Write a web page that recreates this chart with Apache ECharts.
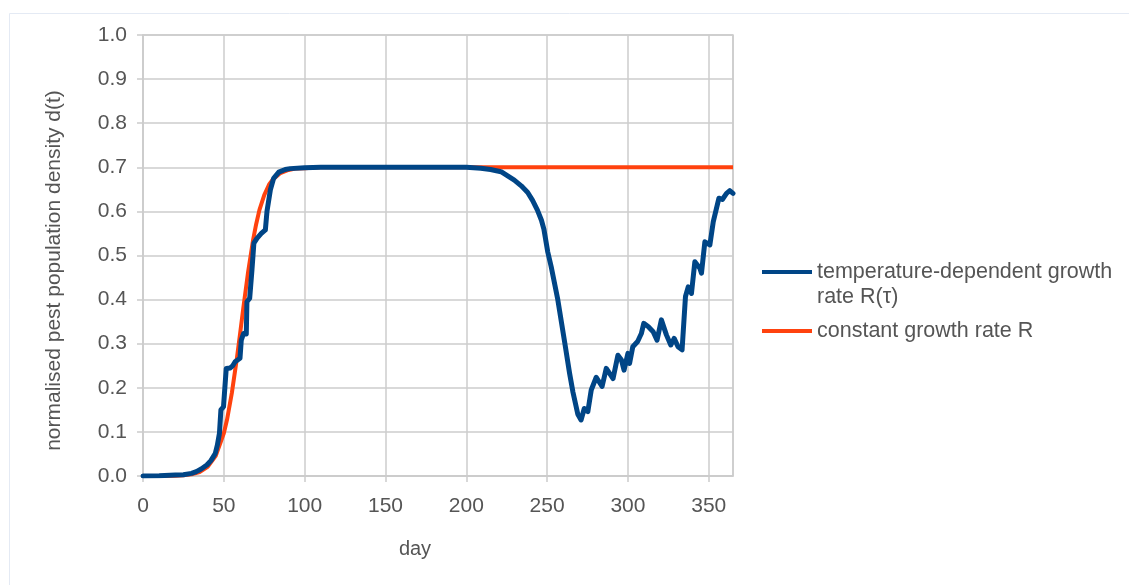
<!DOCTYPE html>
<html>
<head>
<meta charset="utf-8">
<script src="https://cdn.jsdelivr.net/npm/echarts@6/dist/echarts.min.js"></script>
<style>
  html, body { margin: 0; padding: 0; background: #ffffff; }
  #chart { width: 1129px; height: 585px; }
</style>
</head>
<body>
<div id="chart"></div>
<script>
// Series labels
const seriesNames = ['temperature-dependent growth\nrate R(τ)', 'constant growth rate R'];

// Axis ticks
const yTicks = [0.0, 0.1, 0.2, 0.3, 0.4, 0.5, 0.6, 0.7, 0.8, 0.9, 1.0];
const xTicks = [0, 50, 100, 150, 200, 250, 300, 350];

// Temperature-dependent growth rate: day / density
const tempDays = [0, 10, 20, 25, 30, 33, 36, 39.5, 42, 44.7, 46, 47.3, 48.2, 49.8, 51.5, 54, 55.5, 57, 60, 60.8, 62.2, 63.9, 64.3, 66, 67.4, 68.6, 70.5, 73.2, 75.7, 76.7, 78.8, 80.8, 84, 88, 91, 100, 110, 200, 209, 215, 221.5, 229.7, 234, 238, 241, 244, 246.5, 248, 250.4, 252.5, 256.6, 261, 263.9, 266, 267.5, 269, 271, 273, 275.2, 277.3, 280.4, 284, 286.6, 290.8, 291.8, 293.8, 296, 297.6, 300, 301, 303, 306, 308.3, 309.8, 312.5, 315.6, 318, 320.7, 323.8, 326.5, 328.6, 331, 333.5, 335.6, 337.3, 339.3, 341.4, 344.5, 345.5, 347.6, 350.7, 352.8, 356.3, 358.4, 361, 363, 365];
const tempDensity = [0, 0.0005, 0.002, 0.003, 0.006, 0.01, 0.016, 0.025, 0.035, 0.051, 0.07, 0.097, 0.15, 0.157, 0.244, 0.245, 0.25, 0.259, 0.267, 0.308, 0.323, 0.322, 0.395, 0.403, 0.467, 0.528, 0.539, 0.55, 0.558, 0.6, 0.649, 0.675, 0.689, 0.695, 0.697, 0.699, 0.7, 0.7, 0.698, 0.695, 0.69, 0.671, 0.658, 0.643, 0.625, 0.603, 0.58, 0.56, 0.508, 0.475, 0.4, 0.3, 0.233, 0.19, 0.165, 0.14, 0.127, 0.153, 0.146, 0.195, 0.224, 0.203, 0.244, 0.221, 0.218, 0.274, 0.263, 0.24, 0.278, 0.255, 0.293, 0.305, 0.323, 0.346, 0.339, 0.327, 0.308, 0.354, 0.32, 0.297, 0.312, 0.293, 0.286, 0.407, 0.429, 0.414, 0.486, 0.471, 0.46, 0.531, 0.524, 0.577, 0.63, 0.627, 0.641, 0.647, 0.641];

// Constant growth rate: day / density
const constDays = [0, 10, 20, 25, 30, 35, 40, 45, 50, 52, 55, 58, 60, 62, 65, 68, 70, 72, 75, 78, 80, 85, 90, 95, 100, 110, 365];
const constDensity = [0, 0.0002, 0.0008, 0.0018, 0.004, 0.009, 0.021, 0.046, 0.097, 0.128, 0.189, 0.265, 0.321, 0.379, 0.462, 0.533, 0.571, 0.603, 0.637, 0.661, 0.671, 0.687, 0.694, 0.6975, 0.698, 0.7, 0.7];

const pair = (xs, ys) => xs.map((x, i) => [x, ys[i]]);

const FONT = '"Liberation Sans", Arial, sans-serif';
const TEXT = '#555555';
const GRID = '#cccccc';

const chart = echarts.init(document.getElementById('chart'), null, { renderer: 'canvas' });

chart.setOption({
  backgroundColor: '#ffffff',
  animation: false,
  textStyle: { fontFamily: FONT },
  graphic: [{
    type: 'rect',
    left: 7, top: 11,
    shape: { width: 1200, height: 700 },
    style: { fill: 'none', stroke: '#e4eaf4', lineWidth: 1 },
    silent: true,
    z: -10
  }],
  grid: {
    left: 143, right: 396, top: 35, bottom: 109,
    show: true, borderColor: GRID, borderWidth: 1.5
  },
  legend: {
    orient: 'vertical',
    left: 762, top: 234.5,
    padding: 0,
    itemWidth: 50, itemHeight: 4, itemGap: 9,
    icon: 'rect',
    textStyle: { fontFamily: FONT, fontSize: 21.5, color: TEXT, lineHeight: 25 },
    // a leading blank line keeps the first text line level with the line sample
    formatter: name => name.indexOf('\n') >= 0 ? '\n' + name : name,
    data: seriesNames
  },
  xAxis: {
    type: 'value',
    min: 0, max: 365, interval: 50,
    name: 'day', nameLocation: 'middle', nameGap: 63,
    nameTextStyle: { fontFamily: FONT, fontSize: 20, color: TEXT, padding: [0, 46, 0, 0] },
    axisLine: { show: true, lineStyle: { color: GRID, width: 1.5 } },
    axisTick: { show: true, length: 6, lineStyle: { color: GRID, width: 1.5 } },
    axisLabel: {
      margin: 20, fontSize: 21, color: TEXT, fontFamily: FONT,
      showMaxLabel: false,
      formatter: v => xTicks.includes(v) ? String(v) : ''
    },
    splitLine: { show: true, lineStyle: { color: GRID, width: 1.5 } }
  },
  yAxis: {
    type: 'value',
    min: 0, max: 1, interval: 0.1,
    name: 'normalised pest population density d(t)', nameLocation: 'middle', nameGap: 78,
    nameTextStyle: { fontFamily: FONT, fontSize: 21, color: TEXT, padding: [0, 30, 0, 0] },
    axisLine: { show: true, lineStyle: { color: GRID, width: 1.5 } },
    axisTick: { show: true, length: 6, lineStyle: { color: GRID, width: 1.5 } },
    axisLabel: {
      margin: 16, fontSize: 21, color: TEXT, fontFamily: FONT,
      formatter: v => {
        const t = yTicks.find(k => Math.abs(k - v) < 1e-9);
        return t === undefined ? '' : t.toFixed(1);
      }
    },
    splitLine: { show: true, lineStyle: { color: GRID, width: 1.5 } }
  },
  series: [
    {
      name: seriesNames[1],
      type: 'line',
      data: pair(constDays, constDensity),
      showSymbol: false,
      smooth: false,
      lineStyle: { color: '#ff420e', width: 4 },
      itemStyle: { color: '#ff420e' },
      z: 2
    },
    {
      name: seriesNames[0],
      type: 'line',
      data: pair(tempDays, tempDensity),
      showSymbol: false,
      smooth: false,
      lineStyle: { color: '#004586', width: 5, join: 'round', cap: 'round' },
      itemStyle: { color: '#004586' },
      z: 3
    }
  ]
});
</script>
</body>
</html>
